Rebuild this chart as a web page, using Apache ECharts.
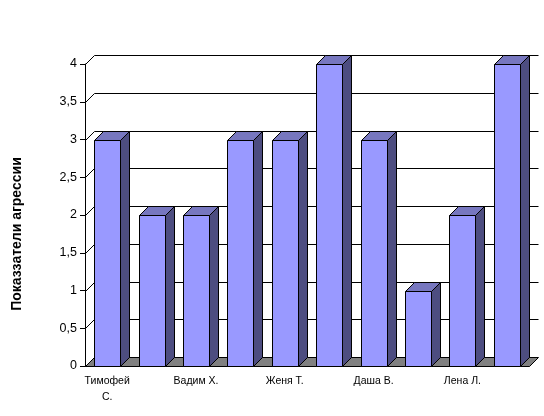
<!DOCTYPE html>
<html>
<head>
    <meta charset="UTF-8">
    <title>Показатели агрессии</title>
    <style>
        html, body { margin: 0; padding: 0; background: #fff; }
        #chart { width: 544px; height: 416px; }
    </style>
    <script src="https://cdn.jsdelivr.net/npm/echarts@6/dist/echarts.min.js"></script>
</head>
<body>
<div id="chart"></div>
<script>
    // подписи показаны через одну, остальные в оригинале не видны
    var categories = ['Тимофей\nС.', '', 'Вадим Х.', '', 'Женя Т.', '', 'Даша В.', '', 'Лена Л.', ''];
    var values = [3, 2, 2, 3, 3, 4, 3, 1, 2, 4];
    var gridValues = [0.5, 1, 1.5, 2, 2.5, 3, 3.5, 4];
    var axisTitle = 'Показзатели агрессии';

    var DEPTH = 9;      // глубина псевдо-3D
    var BAR_PART = 0.59;

    function px(v) {
        return Math.round(v) + 0.5;
    }

    var line = {stroke: '#000', lineWidth: 1, fill: null};
    var edge = {stroke: '#000', lineWidth: 1};

    function renderGrid(params, api) {
        var y = api.value(0);
        var left = px(params.coordSys.x);
        var right = px(params.coordSys.x + params.coordSys.width);
        var p = px(api.coord([0, y])[1]);
        return {
            type: 'polyline',
            shape: {points: [[left, p], [left + DEPTH, p - DEPTH], [right + DEPTH, p - DEPTH]]},
            style: line,
            silent: true
        };
    }

    function renderFloor(params, api) {
        var left = px(params.coordSys.x);
        var right = px(params.coordSys.x + params.coordSys.width);
        var p = px(api.coord([0, 0])[1]);
        return {
            type: 'polygon',
            shape: {points: [[left, p], [left + DEPTH, p - DEPTH], [right + DEPTH, p - DEPTH], [right, p]]},
            style: {fill: '#808080', stroke: '#000', lineWidth: 1},
            silent: true
        };
    }

    function renderBar(params, api) {
        var i = api.value(0);
        var top = api.coord([i, api.value(1)]);
        var base = api.coord([i, 0]);
        var w = api.size([1, 0])[0] * BAR_PART;
        var x0 = px(top[0] - w / 2);
        var x1 = px(top[0] + w / 2);
        var y0 = px(top[1]);
        var y1 = px(base[1]);
        return {
            type: 'group',
            children: [
                {
                    type: 'polygon',
                    shape: {points: [[x1, y0], [x1 + DEPTH, y0 - DEPTH], [x1 + DEPTH, y1 - DEPTH], [x1, y1]]},
                    style: Object.assign({fill: '#4D4D80'}, edge)
                },
                {
                    type: 'polygon',
                    shape: {points: [[x0, y0], [x0 + DEPTH, y0 - DEPTH], [x1 + DEPTH, y0 - DEPTH], [x1, y0]]},
                    style: Object.assign({fill: '#7777BF'}, edge)
                },
                {
                    type: 'rect',
                    shape: {x: x0, y: y0, width: x1 - x0, height: y1 - y0},
                    style: Object.assign({fill: '#9999FF'}, edge)
                }
            ]
        };
    }

    var myChart = echarts.init(document.getElementById('chart'), null, {renderer: 'canvas'});
    myChart.setOption({
        animation: false,
        textStyle: {fontFamily: 'Liberation Sans'},
        grid: {left: 85, right: 15, top: 64, bottom: 50, containLabel: false},
        graphic: [{
            type: 'text',
            x: 17,
            y: 234,
            rotation: Math.PI / 2,
            style: {
                text: axisTitle,
                fill: '#000',
                font: 'bold 14px "Liberation Sans"',
                align: 'center',
                verticalAlign: 'middle'
            }
        }],
        xAxis: {
            type: 'category',
            data: categories,
            axisLine: {lineStyle: {color: '#000', width: 1}},
            axisTick: {length: 5, lineStyle: {color: '#000'}},
            axisLabel: {interval: 0, color: '#000', fontSize: 10.5, lineHeight: 16, margin: 7},
            splitLine: {show: false}
        },
        yAxis: {
            type: 'value',
            min: 0,
            max: 4,
            interval: 0.5,
            axisLine: {show: true, lineStyle: {color: '#000', width: 1}},
            axisTick: {show: true, length: 5, lineStyle: {color: '#000'}},
            axisLabel: {
                color: '#000',
                fontSize: 12.5,
                margin: 8,
                formatter: function (v) {
                    return String(v).replace('.', ',');
                }
            },
            splitLine: {show: false}
        },
        series: [
            {
                type: 'custom',
                coordinateSystem: 'cartesian2d',
                renderItem: renderGrid,
                data: gridValues.map(function (v) { return [v]; }),
                encode: {y: 0},
                clip: false,
                z: 1
            },
            {
                type: 'custom',
                coordinateSystem: 'cartesian2d',
                renderItem: renderFloor,
                data: [[0]],
                encode: {y: 0},
                clip: false,
                z: 2
            },
            {
                type: 'custom',
                coordinateSystem: 'cartesian2d',
                renderItem: renderBar,
                data: values.map(function (v, i) { return [i, v]; }),
                encode: {x: 0, y: 1},
                clip: false,
                z: 3
            }
        ]
    });
</script>
</body>
</html>
